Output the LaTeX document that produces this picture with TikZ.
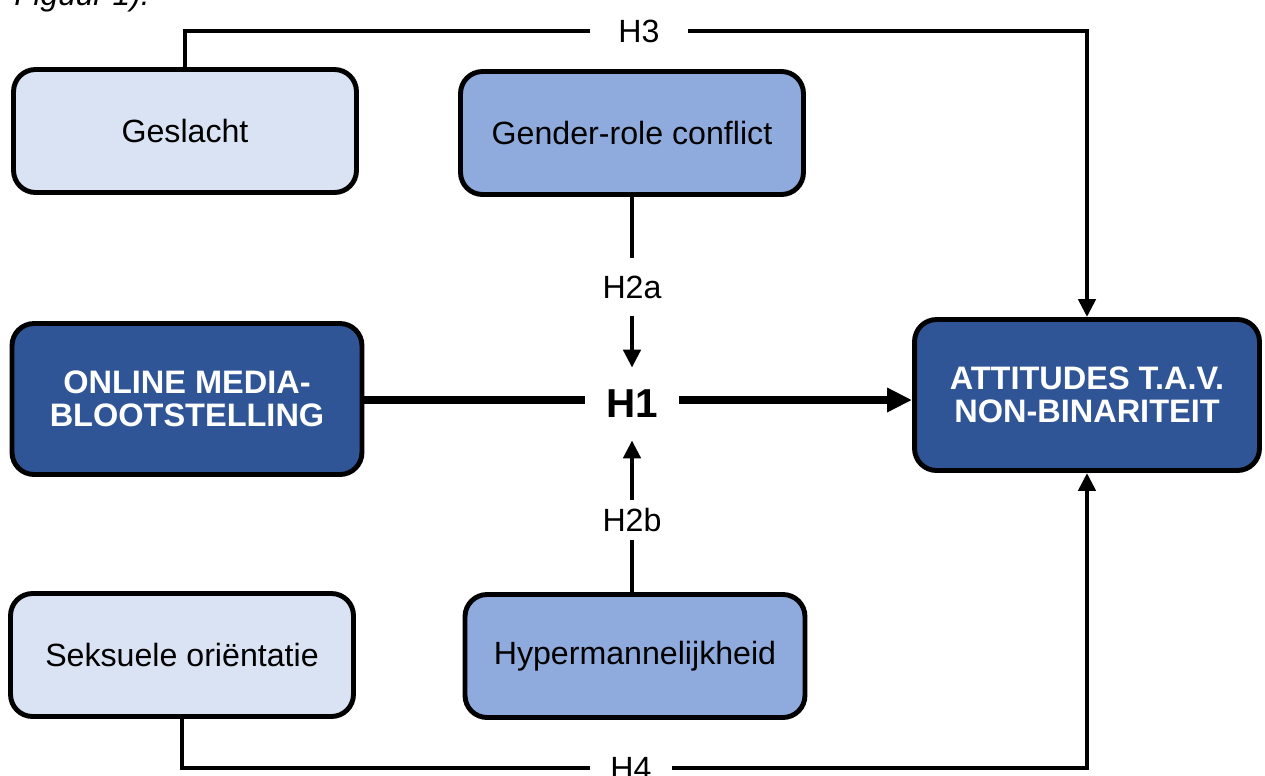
\documentclass[tikz,border=0pt]{standalone}
\usepackage{fontspec}
\setmainfont{Liberation Sans}
\usetikzlibrary{arrows.meta, positioning, calc}
\definecolor{boxLight}{RGB}{218, 227, 243}
\definecolor{boxMid}{RGB}{143, 170, 220}
\definecolor{boxDark}{RGB}{47, 85, 151}

\begin{document}
\begin{tikzpicture}[
    x=0.02cm, y=-0.02cm,
    font=\fontsize{18.3}{21}\selectfont,
    % Basisstijl voor blokken
    block/.style={
        draw=black,
        line width=2.8pt,
        rounded corners=0.44cm,
        minimum width=6.86cm,
        minimum height=2.46cm,
        align=center
    },
    light/.style={block, fill=boxLight},
    mid/.style={block, fill=boxMid},
    dark/.style={block, fill=boxDark, text=white,
        font=\fontsize{18.5}{19}\selectfont\bfseries,
        minimum width=7cm, minimum height=3.02cm},
    % Labels op de lijnen
    hyp/.style={inner sep=0pt},
    % Lijnen en pijlen
    link/.style={line width=2.8pt},
    arrow/.style={link, -{Triangle[length=0.36cm, width=0.34cm]}},
    mainlink/.style={line width=4pt},
    mainarrow/.style={mainlink, -{Triangle[length=0.5cm, width=0.46cm]}}
]
    \useasboundingbox (0,0) rectangle (1265,775);

    % --- Bijschrift (afgesneden) ---
    \node[anchor=base west, font=\fontsize{18}{20}\selectfont\itshape, inner sep=0pt] (caption) at (14,5) {Figuur 1).};

    % --- Blokken ---
    \node[light] (geslacht) at (185,131) {Geslacht};
    \node[mid] (genderrole) at (632,133) {Gender-role conflict};
    \node[dark] (online) at (187,399) {ONLINE MEDIA-\\BLOOTSTELLING};
    \node[dark, minimum width=6.9cm] (attitudes) at (1087,395) {ATTITUDES T.A.V.\\NON-BINARITEIT};
    \node[light] (seksueel) at (182,655) {Seksuele oriëntatie};
    \node[mid, minimum width=6.8cm] (hyper) at (635,656) {Hypermannelijkheid};

    % --- Hypothesen ---
    \node[hyp, font=\fontsize{23}{25}\selectfont\bfseries, minimum width=1.86cm, minimum height=1.44cm] (h1) at (632,404) {H1};
    \node[hyp, minimum width=1.96cm] (h3) at (639,31) {H3};
    \node[hyp, minimum height=1.14cm] (h2a) at (632,287) {H2a};
    \node[hyp, minimum height=0.8cm] (h2b) at (632,520) {H2b};
    \node[hyp, minimum width=1.64cm] (h4) at (631,768) {H4};
    \coordinate (h1line) at (632,400);

    % --- Verbindingen ---
    % H1: media -> attitudes
    \draw[mainlink] (online.east |- h1line) -- (h1.west |- h1line);
    \draw[mainarrow] (h1.east |- h1line) -- (attitudes.west |- h1line);

    % H2a en H2b: moderatoren
    \draw[link] (genderrole.south) -- (h2a.north);
    \draw[arrow] (h2a.south) -- (h1.north);
    \draw[link] (h2b.south |- hyper.north) -- (h2b.south);
    \draw[arrow] (h2b.north) -- (h1.south);

    % H3: geslacht -> attitudes
    \draw[link] (geslacht.north) |- (h3.west);
    \draw[arrow] (h3.east) -| (attitudes.north);

    % H4: seksuele orientatie -> attitudes
    \draw[link] (seksueel.south) |- (h4.west);
    \draw[arrow] (h4.east) -| (attitudes.south);

\end{tikzpicture}
\end{document}
